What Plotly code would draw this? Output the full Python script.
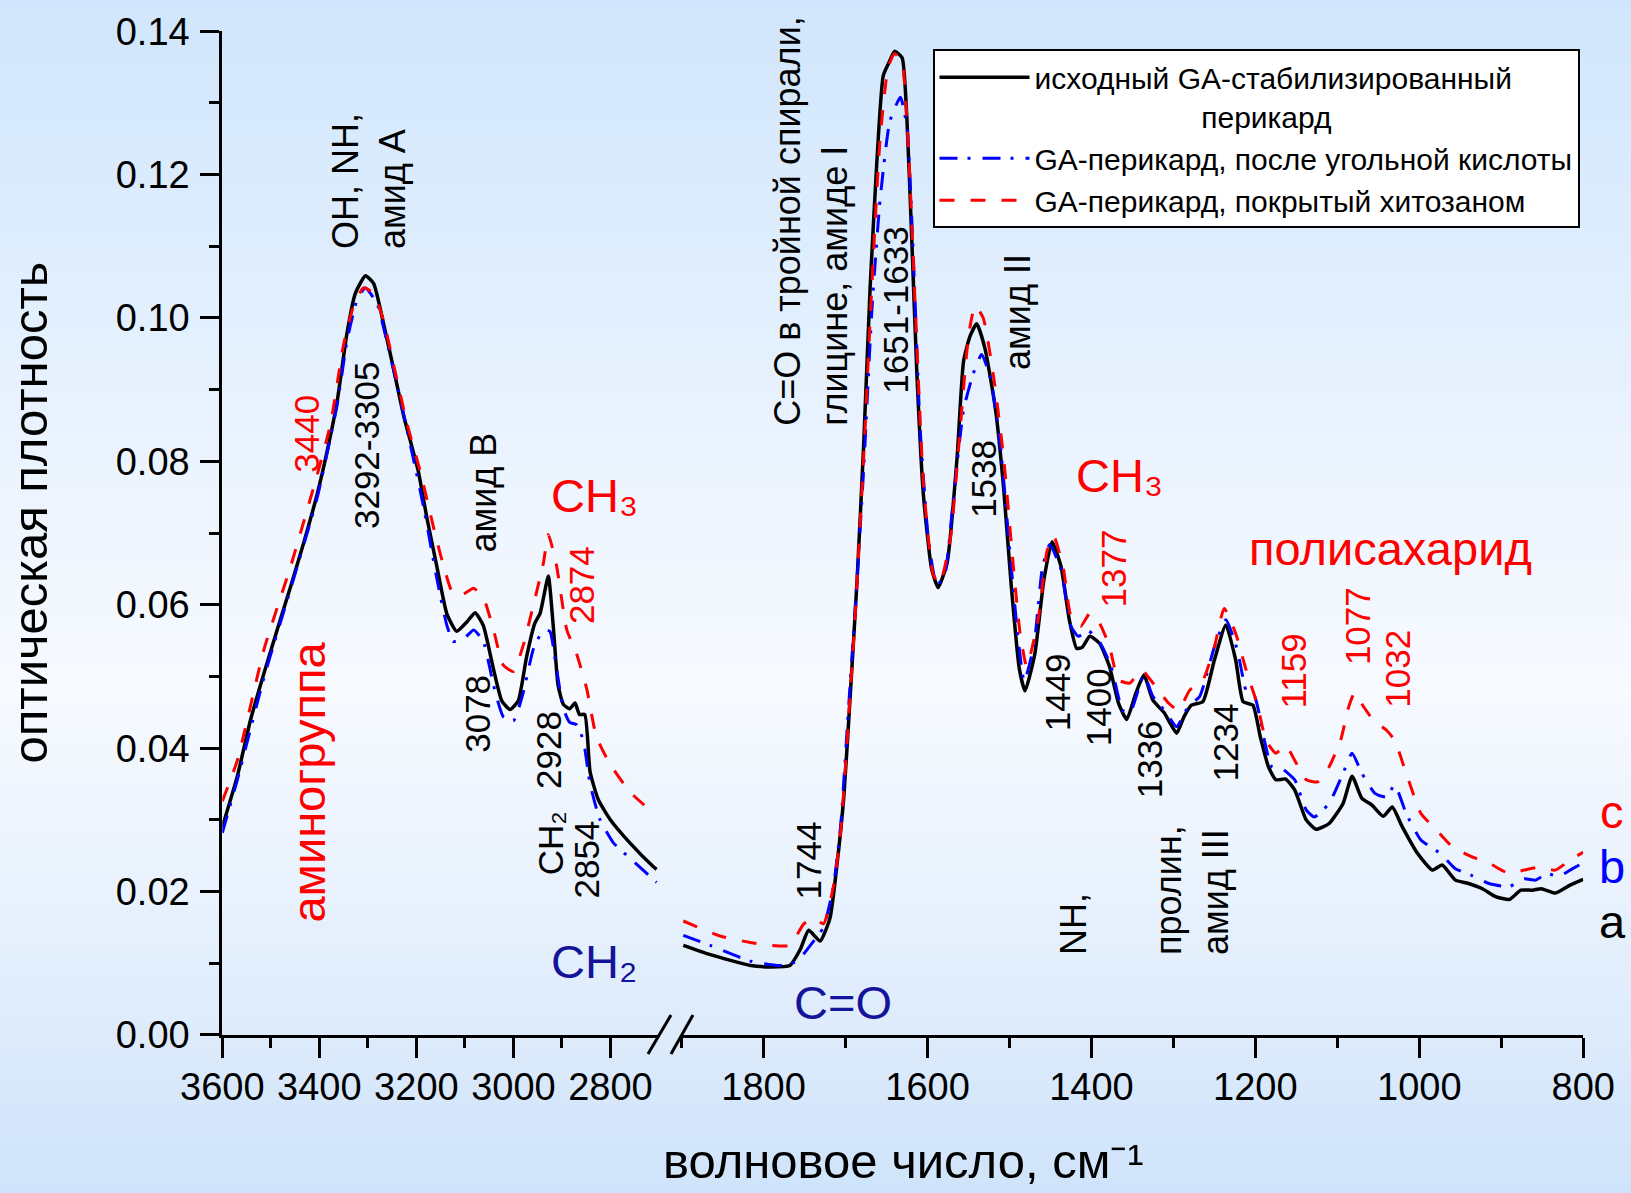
import base64, struct, zlib
import plotly.graph_objects as go

FONT = "Liberation Sans, Arial, sans-serif"

# ---------------- data: left segment (3600-2700 cm-1) ----------------
wn_a_left = [3600, 3569, 3542, 3514, 3487, 3459, 3432, 3405, 3384, 3363, 3343, 3326, 3305, 3288,
             3267, 3247, 3226, 3213, 3196, 3178, 3158, 3137, 3117, 3096, 3079, 3062, 3041, 3024,
             3007, 2990, 2973, 2956, 2945, 2938, 2928, 2918, 2908, 2897, 2884, 2873, 2864, 2853,
             2842, 2825, 2801, 2760, 2712, 2705]
a_left = [0.0290, 0.0361, 0.0439, 0.0505, 0.0565, 0.0626, 0.0687, 0.0753, 0.0814, 0.0885, 0.0979,
          0.1034, 0.1059, 0.1048, 0.0990, 0.0929, 0.0863, 0.0830, 0.0786, 0.0720, 0.0654, 0.0587,
          0.0563, 0.0576, 0.0589, 0.0571, 0.0510, 0.0466, 0.0454, 0.0466, 0.0527, 0.0574, 0.0588,
          0.0610, 0.0640, 0.0571, 0.0488, 0.0461, 0.0455, 0.0463, 0.0447, 0.0447, 0.0367, 0.0328,
          0.0301, 0.0268, 0.0235, 0.0231]

wn_b_left = [3600, 3569, 3514, 3459, 3405, 3363, 3343, 3322, 3305, 3281, 3261, 3240, 3213, 3185,
             3158, 3137, 3124, 3103, 3082, 3062, 3041, 3021, 3000, 2980, 2959, 2938, 2925, 2911,
             2897, 2884, 2870, 2856, 2842, 2822, 2794, 2767, 2705]
b_left = [0.0282, 0.0356, 0.0499, 0.0623, 0.0748, 0.0880, 0.0968, 0.1026, 0.1042, 0.1020, 0.0968,
          0.0907, 0.0825, 0.0736, 0.0637, 0.0571, 0.0549, 0.0552, 0.0565, 0.0549, 0.0488, 0.0444,
          0.0438, 0.0477, 0.0538, 0.0565, 0.0563, 0.0510, 0.0455, 0.0436, 0.0433, 0.0411, 0.0350,
          0.0301, 0.0268, 0.0251, 0.0213]

wn_c_left = [3600, 3569, 3514, 3459, 3405, 3377, 3350, 3329, 3309, 3288, 3267, 3247, 3219, 3192,
             3165, 3144, 3124, 3103, 3082, 3062, 3041, 3021, 3000, 2980, 2959, 2938, 2928, 2911,
             2890, 2870, 2849, 2829, 2801, 2760, 2705]
c_left = [0.0326, 0.0383, 0.0538, 0.0654, 0.0780, 0.0852, 0.0963, 0.1018, 0.1042, 0.1034, 0.0995,
          0.0935, 0.0852, 0.0786, 0.0709, 0.0654, 0.0615, 0.0615, 0.0623, 0.0610, 0.0565, 0.0516,
          0.0507, 0.0543, 0.0599, 0.0659, 0.0698, 0.0654, 0.0565, 0.0532, 0.0483, 0.0416, 0.0378,
          0.0339, 0.0306]

# ---------------- data: right segment (1900-800 cm-1) ----------------
wn_a_right = [1898, 1865, 1816, 1792, 1768, 1755, 1745, 1731, 1719, 1711, 1702, 1694, 1686, 1678,
              1670, 1662, 1654, 1646, 1640, 1631, 1625, 1619, 1613, 1605, 1595, 1587, 1576, 1564,
              1556, 1548, 1540, 1530, 1517, 1507, 1498, 1488, 1481, 1469, 1458, 1448, 1437, 1427,
              1418, 1411, 1402, 1390, 1378, 1367, 1357, 1346, 1336, 1325, 1311, 1296, 1287, 1278,
              1264, 1250, 1236, 1224, 1215, 1203, 1194, 1184, 1175, 1163, 1152, 1138, 1126, 1110,
              1093, 1082, 1070, 1058, 1044, 1033, 1021, 1002, 984, 972, 956, 942, 923, 907, 890,
              876, 862, 851, 834, 816, 800]
a_right = [0.0125, 0.0112, 0.0097, 0.0095, 0.0097, 0.0120, 0.0146, 0.0131, 0.0163, 0.0232, 0.0334,
           0.0479, 0.0633, 0.0821, 0.1043, 0.1214, 0.1338, 0.1359, 0.1372, 0.1363, 0.1274, 0.1103,
           0.0923, 0.0753, 0.0650, 0.0624, 0.0659, 0.0804, 0.0940, 0.0975, 0.0992, 0.0958, 0.0872,
           0.0761, 0.0629, 0.0511, 0.0480, 0.0532, 0.0635, 0.0688, 0.0653, 0.0579, 0.0539, 0.0541,
           0.0556, 0.0546, 0.0514, 0.0463, 0.0440, 0.0476, 0.0502, 0.0467, 0.0449, 0.0421, 0.0444,
           0.0460, 0.0465, 0.0523, 0.0572, 0.0523, 0.0465, 0.0460, 0.0416, 0.0374, 0.0356, 0.0357,
           0.0342, 0.0300, 0.0287, 0.0295, 0.0323, 0.0361, 0.0330, 0.0321, 0.0305, 0.0318, 0.0291,
           0.0253, 0.0230, 0.0237, 0.0216, 0.0212, 0.0204, 0.0193, 0.0189, 0.0202, 0.0202, 0.0204,
           0.0198, 0.0209, 0.0217]

wn_b_right = [1898, 1865, 1816, 1780, 1759, 1743, 1727, 1715, 1706, 1698, 1688, 1678, 1668, 1658,
              1646, 1633, 1625, 1617, 1609, 1599, 1589, 1580, 1568, 1556, 1544, 1534, 1523, 1511,
              1499, 1489, 1482, 1470, 1460, 1451, 1437, 1425, 1416, 1404, 1390, 1376, 1362, 1353,
              1336, 1325, 1311, 1296, 1282, 1268, 1250, 1236, 1222, 1210, 1201, 1189, 1180, 1166,
              1152, 1138, 1128, 1110, 1093, 1082, 1070, 1054, 1040, 1030, 1016, 998, 974, 956,
              937, 914, 890, 872, 858, 844, 830, 813, 800]
b_right = [0.0139, 0.0125, 0.0103, 0.0097, 0.0103, 0.0125, 0.0150, 0.0206, 0.0291, 0.0428, 0.0599,
           0.0787, 0.1009, 0.1163, 0.1274, 0.1308, 0.1265, 0.1077, 0.0846, 0.0693, 0.0629, 0.0637,
           0.0753, 0.0872, 0.0923, 0.0949, 0.0915, 0.0821, 0.0667, 0.0548, 0.0493, 0.0545, 0.0650,
           0.0684, 0.0649, 0.0570, 0.0556, 0.0564, 0.0548, 0.0514, 0.0453, 0.0449, 0.0502, 0.0472,
           0.0453, 0.0430, 0.0458, 0.0472, 0.0541, 0.0579, 0.0537, 0.0476, 0.0472, 0.0411, 0.0374,
           0.0370, 0.0356, 0.0314, 0.0304, 0.0323, 0.0365, 0.0393, 0.0365, 0.0337, 0.0332, 0.0349,
           0.0309, 0.0272, 0.0253, 0.0232, 0.0223, 0.0211, 0.0207, 0.0218, 0.0216, 0.0225, 0.0221,
           0.0232, 0.0240]

wn_c_right = [1898, 1853, 1816, 1792, 1768, 1751, 1739, 1727, 1715, 1706, 1698, 1688, 1678, 1668,
              1658, 1648, 1640, 1631, 1623, 1615, 1605, 1593, 1585, 1572, 1560, 1550, 1542, 1532,
              1519, 1507, 1495, 1487, 1479, 1465, 1454, 1446, 1434, 1425, 1413, 1402, 1390, 1378,
              1367, 1353, 1339, 1325, 1306, 1294, 1280, 1264, 1250, 1238, 1224, 1210, 1198, 1187,
              1175, 1163, 1152, 1138, 1124, 1110, 1096, 1086, 1079, 1068, 1056, 1040, 1030, 1016,
              998, 979, 960, 937, 914, 890, 872, 853, 834, 816, 800]
c_right = [0.0159, 0.0138, 0.0129, 0.0125, 0.0125, 0.0155, 0.0163, 0.0155, 0.0206, 0.0283, 0.0411,
           0.0590, 0.0804, 0.1043, 0.1248, 0.1350, 0.1369, 0.1355, 0.1231, 0.1017, 0.0770, 0.0642,
           0.0629, 0.0693, 0.0847, 0.0975, 0.1017, 0.1000, 0.0915, 0.0804, 0.0650, 0.0560, 0.0514,
           0.0579, 0.0676, 0.0696, 0.0649, 0.0584, 0.0570, 0.0588, 0.0574, 0.0542, 0.0495, 0.0491,
           0.0509, 0.0491, 0.0463, 0.0453, 0.0481, 0.0495, 0.0541, 0.0595, 0.0560, 0.0504, 0.0463,
           0.0411, 0.0393, 0.0404, 0.0383, 0.0356, 0.0353, 0.0374, 0.0411, 0.0458, 0.0477, 0.0458,
           0.0439, 0.0425, 0.0411, 0.0365, 0.0309, 0.0286, 0.0263, 0.0249, 0.0239, 0.0225, 0.0230,
           0.0234, 0.0230, 0.0244, 0.0255]

series_names = [
    "исходный GA-стабилизированный<br>" + "\u00a0" * 20 + "перикард",
    "GA-перикард, после угольной кислоты",
    "GA-перикард, покрытый хитозаном",
]

left_ticks = [3600, 3400, 3200, 3000, 2800]
right_ticks = [1800, 1600, 1400, 1200, 1000, 800]
y_ticks = [0.00, 0.02, 0.04, 0.06, 0.08, 0.10, 0.12, 0.14]

# labels: (text, x, y, xref, angle, color, size, yanchor, align)
RED, BLK, BLU, NAVY = "#ff0000", "#000000", "#0000ff", "#14149a"
labels = [
    ("OH, NH,<br>амид А", 3296, 0.1093, "x", -90, BLK, 36, "bottom", "left"),
    ("3292-3305", 3303, 0.0822, "x", -90, BLK, 35, "middle", "center"),
    ("3440", 3427, 0.0839, "x", -90, RED, 35, "middle", "center"),
    ("амид В", 3062, 0.0757, "x", -90, BLK, 36, "middle", "center"),
    ("CH₃", 2833, 0.0753, "x", 0, RED, 47, "middle", "center"),
    ("2874", 2860, 0.0628, "x", -90, RED, 35, "middle", "center"),
    ("3078", 3073, 0.0448, "x", -90, BLK, 35, "middle", "center"),
    ("2928", 2928, 0.0398, "x", -90, BLK, 35, "middle", "center"),
    ("CH₂", 2923, 0.0267, "x", -90, BLK, 35, "middle", "center"),
    ("2854", 2850, 0.0245, "x", -90, BLK, 35, "middle", "center"),
    ("аминогруппа", 3422, 0.0353, "x", -90, RED, 47, "middle", "center"),
    ("CH₂", 2833, 0.0103, "x", 0, NAVY, 47, "middle", "center"),
    ("C=O в тройной спирали,<br>глицине, амиде I", 1742, 0.0847, "x2", -90, BLK, 36, "bottom", "left"),
    ("1651-1633", 1639, 0.1011, "x2", -90, BLK, 35, "middle", "center"),
    ("амид II", 1490, 0.1008, "x2", -90, BLK, 36, "middle", "center"),
    ("1538", 1532, 0.0776, "x2", -90, BLK, 35, "middle", "center"),
    ("1744", 1745, 0.0243, "x2", -90, BLK, 35, "middle", "center"),
    ("C=O", 1703, 0.0045, "x2", 0, NAVY, 47, "middle", "center"),
    ("CH₃", 1366, 0.0780, "x2", 0, RED, 47, "middle", "center"),
    ("1377", 1373, 0.0650, "x2", -90, RED, 35, "middle", "center"),
    ("полисахарид", 1035, 0.0679, "x2", 0, RED, 47, "middle", "center"),
    ("1449", 1442, 0.0478, "x2", -90, BLK, 35, "middle", "center"),
    ("1400", 1391, 0.0457, "x2", -90, BLK, 35, "middle", "center"),
    ("1336", 1329, 0.0384, "x2", -90, BLK, 35, "middle", "center"),
    ("1234", 1237, 0.0408, "x2", -90, BLK, 35, "middle", "center"),
    ("1159", 1154, 0.0507, "x2", -90, RED, 35, "middle", "center"),
    ("1077", 1075, 0.0570, "x2", -90, RED, 35, "middle", "center"),
    ("1032", 1027, 0.0511, "x2", -90, RED, 35, "middle", "center"),
    ("NH,", 1421, 0.0109, "x2", -90, BLK, 36, "bottom", "center"),
    ("пролин,<br>амид III", 1277, 0.0109, "x2", -90, BLK, 36, "bottom", "left"),
]
curve_letters = [("c", 0.0312, RED), ("b", 0.0235, BLU), ("a", 0.0158, BLK)]


# ---------------- background gradient as an inline PNG ----------------
def gradient_uri(stops, h=240, w=4):
    rows = []
    for i in range(h):
        t = i / (h - 1)
        col = stops[-1][1]
        for k in range(len(stops) - 1):
            t0, c0 = stops[k]
            t1, c1 = stops[k + 1]
            if t0 <= t <= t1:
                f = (t - t0) / (t1 - t0)
                col = tuple(int(round(c0[j] + (c1[j] - c0[j]) * f)) for j in range(3))
                break
        rows.append(b"\x00" + bytes(col) * w)
    raw = b"".join(rows)

    def chunk(tag, data):
        return (struct.pack(">I", len(data)) + tag + data +
                struct.pack(">I", zlib.crc32(tag + data) & 0xFFFFFFFF))

    png = (b"\x89PNG\r\n\x1a\n" +
           chunk(b"IHDR", struct.pack(">IIBBBBB", w, h, 8, 2, 0, 0, 0)) +
           chunk(b"IDAT", zlib.compress(raw, 9)) + chunk(b"IEND", b""))
    return "data:image/png;base64," + base64.b64encode(png).decode()


bg_stops = [(0.0, (209, 230, 252)), (0.2, (222, 237, 253)), (0.45, (240, 246, 254)),
            (0.58, (247, 250, 255)), (0.75, (233, 242, 253)), (0.9, (218, 233, 251)),
            (1.0, (207, 227, 250))]

fig = go.Figure()

styles = [
    dict(color="black", width=3.5),
    dict(color="#0000ff", width=3, dash="18px,10px,3px,12px"),
    dict(color="#ff0000", width=3, dash="15px,16px"),
]
left_data = [(wn_a_left, a_left), (wn_b_left, b_left), (wn_c_left, c_left)]
right_data = [(wn_a_right, a_right), (wn_b_right, b_right), (wn_c_right, c_right)]

for i in range(3):
    st = dict(styles[i], shape="spline", smoothing=0.5)
    fig.add_trace(go.Scatter(x=left_data[i][0], y=left_data[i][1], mode="lines", line=st,
                             name=series_names[i], legendgroup=f"g{i}", showlegend=True,
                             xaxis="x", yaxis="y"))
for i in range(3):
    st = dict(styles[i], shape="spline", smoothing=0.5)
    fig.add_trace(go.Scatter(x=right_data[i][0], y=right_data[i][1], mode="lines", line=st,
                             name=series_names[i], legendgroup=f"g{i}", showlegend=False,
                             xaxis="x2", yaxis="y"))

axis_common = dict(
    showline=True, linewidth=3, linecolor="black", mirror=False, automargin=False,
    ticks="outside", ticklen=20, tickwidth=3, tickcolor="black",
    showgrid=False, zeroline=False,
    tickfont=dict(family=FONT, size=38, color="black"),
)
minor_x = dict(ticks="outside", ticklen=10, tickwidth=3, tickcolor="black", dtick=100, showgrid=False)

annotations = []
for (txt, x, y, xref, ang, col, size, yanc, al) in labels:
    annotations.append(dict(text=txt, x=x, y=y, xref=xref, yref="y", textangle=ang,
                            showarrow=False, xanchor="center", yanchor=yanc, align=al,
                            font=dict(family=FONT, size=size, color=col)))
for (txt, y, col) in curve_letters:
    annotations.append(dict(text=txt, x=0.9884, y=y, xref="paper", yref="y", showarrow=False,
                            xanchor="center", yanchor="middle",
                            font=dict(family=FONT, size=47, color=col)))
annotations.append(dict(text="оптическая плотность", x=30 / 1631, y=0.5704, xref="paper",
                        yref="paper", textangle=-90, showarrow=False, xanchor="center",
                        yanchor="middle", borderpad=0,
                        font=dict(family=FONT, size=49, color="black")))
annotations.append(dict(text="волновое число, см⁻¹", x=0.554, y=1 - 1161 / 1193,
                        xref="paper", yref="paper", showarrow=False, xanchor="center",
                        yanchor="middle", borderpad=0,
                        font=dict(family=FONT, size=49, color="black")))

# axis-break marks
shapes = [
    dict(type="line", xref="paper", yref="paper", x0=648 / 1631, y0=1 - 1054 / 1193,
         x1=671 / 1631, y1=1 - 1015 / 1193, line=dict(color="black", width=3)),
    dict(type="line", xref="paper", yref="paper", x0=671 / 1631, y0=1 - 1054 / 1193,
         x1=693 / 1631, y1=1 - 1015 / 1193, line=dict(color="black", width=3)),
]

fig.update_layout(
    template="none",
    width=1631, height=1193,
    margin=dict(l=0, r=0, t=0, b=0, pad=0, autoexpand=False),
    paper_bgcolor="#e8f1fc", plot_bgcolor="rgba(0,0,0,0)",
    font=dict(family=FONT, color="black"),
    images=[dict(source=gradient_uri(bg_stops), xref="paper", yref="paper", x=0, y=1,
                 sizex=1, sizey=1, sizing="stretch", layer="below", xanchor="left", yanchor="top")],
    xaxis=dict(axis_common, domain=[0.1363, 0.40374], range=[3600, 2701], anchor="y",
               tickmode="array", tickvals=left_ticks, ticktext=[str(v) for v in left_ticks],
               minor=minor_x, ticklabelstandoff=-4),
    xaxis2=dict(axis_common, domain=[0.41692, 0.97069], range=[1902, 800], anchor="y",
                tickmode="array", tickvals=right_ticks, ticktext=[str(v) for v in right_ticks],
                minor=minor_x, ticklabelstandoff=-4),
    yaxis=dict(axis_common, domain=[0.13244, 0.97385], range=[0, 0.14], anchor="x",
               tickmode="array", tickvals=y_ticks, ticktext=[f"{v:.2f}" for v in y_ticks],
               ticklen=19,
               minor=dict(ticks="outside", ticklen=10, tickwidth=3, tickcolor="black", dtick=0.01,
                          showgrid=False),
               ticklabelstandoff=3),
    showlegend=True,
    legend=dict(x=932.5 / 1631, y=1 - 49.3 / 1193, xanchor="left", yanchor="top",
                bgcolor="white", bordercolor="black", borderwidth=2,
                font=dict(family=FONT, size=30, color="black"),
                valign="top", itemwidth=90, tracegroupgap=0),
    annotations=annotations,
    shapes=shapes,
)

fig.write_html(
    "out.html",
    config={"displayModeBar": False},
    post_script="document.body.style.margin='0px';document.body.style.overflow='hidden';",
)
